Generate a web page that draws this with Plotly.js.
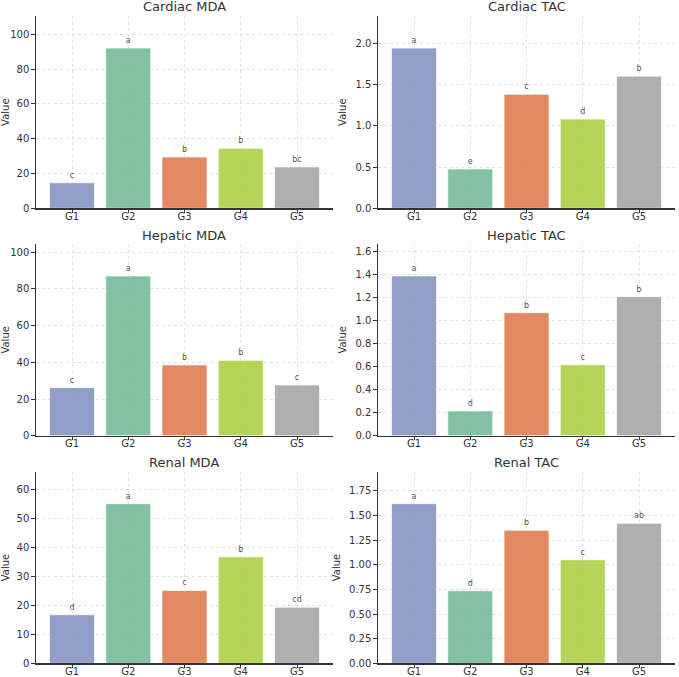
<!DOCTYPE html>
<html>
<head>
<meta charset="utf-8">
<script src="https://cdn.plot.ly/plotly-3.0.1.min.js"></script>
<style>
  html, body { margin: 0; padding: 0; background: #fff; }
  #chart { width: 679px; height: 677px; }
</style>
</head>
<body>
<div id="chart"></div>
<script>
// Group labels shared by all panels
const groups = ['G1', 'G2', 'G3', 'G4', 'G5'];

// Mean values per tissue / marker
const cardiacMDA = [14.7, 92.1, 29.5, 34.5, 23.8];
const cardiacTAC = [1.94, 0.476, 1.38, 1.08, 1.60];
const hepaticMDA = [26.2, 87.1, 38.6, 41.1, 27.7];
const hepaticTAC = [1.39, 0.215, 1.07, 0.617, 1.21];
const renalMDA   = [16.8, 55.2, 25.2, 36.8, 19.4];
const renalTAC   = [1.62, 0.736, 1.35, 1.05, 1.42];

// Significance letters shown above each bar
const cardiacMDALetters = ['c', 'a', 'b', 'b', 'bc'];
const cardiacTACLetters = ['a', 'e', 'c', 'd', 'b'];
const hepaticMDALetters = ['c', 'a', 'b', 'b', 'c'];
const hepaticTACLetters = ['a', 'd', 'b', 'c', 'b'];
const renalMDALetters   = ['d', 'a', 'c', 'b', 'cd'];
const renalTACLetters   = ['a', 'd', 'b', 'c', 'ab'];

// Panel titles
const panelTitles = ['Cardiac MDA', 'Cardiac TAC', 'Hepatic MDA', 'Hepatic TAC', 'Renal MDA', 'Renal TAC'];

// Bar colours (one per group)
const barColors = ['#8594C3', '#76BB9A', '#E17D51', '#ADD148', '#A7A7A7'];

const panels = [
  { values: cardiacMDA, letters: cardiacMDALetters, dtick: 20,   fmt: 'd'   },
  { values: cardiacTAC, letters: cardiacTACLetters, dtick: 0.5,  fmt: '.1f' },
  { values: hepaticMDA, letters: hepaticMDALetters, dtick: 20,   fmt: 'd'   },
  { values: hepaticTAC, letters: hepaticTACLetters, dtick: 0.2,  fmt: '.1f' },
  { values: renalMDA,   letters: renalMDALetters,   dtick: 10,   fmt: 'd'   },
  { values: renalTAC,   letters: renalTACLetters,   dtick: 0.25, fmt: '.2f' }
];

// Plot-area domains (paper fractions)
const W = 679, H = 677;
const colDomains = [[36 / W, 333 / W], [378 / W, 675 / W]];
const rowDomains = [
  [1 - 208.3 / H, 1 - 16 / H],
  [1 - 435.7 / H, 1 - 244 / H],
  [1 - 663.3 / H, 1 - 471.7 / H]
];

const axisColor = '#333333';
const gridColor = '#d9d9d9';
const textColor = '#333333';
const fontFamily = 'DejaVu Sans, sans-serif';

const data = [];
const layout = {
  width: W,
  height: H,
  margin: { l: 0, r: 0, t: 0, b: 0 },
  paper_bgcolor: '#ffffff',
  plot_bgcolor: '#ffffff',
  showlegend: false,
  font: { family: fontFamily, color: textColor, size: 10 },
  annotations: []
};

panels.forEach((p, i) => {
  const n = i + 1;
  const xa = n === 1 ? 'x' : 'x' + n;
  const ya = n === 1 ? 'y' : 'y' + n;
  const row = Math.floor(i / 2);
  const col = i % 2;

  data.push({
    type: 'bar',
    x: groups,
    y: p.values,
    xaxis: xa,
    yaxis: ya,
    width: 0.8,
    opacity: 0.9,
    marker: { color: barColors, line: { color: 'rgba(255,255,255,0.7)', width: 1 } },
    text: p.letters,
    textposition: 'outside',
    textfont: { family: fontFamily, size: 8, color: '#444444' },
    constraintext: 'none',
    cliponaxis: false,
    hoverinfo: 'x+y'
  });

  const xKey = n === 1 ? 'xaxis' : 'xaxis' + n;
  const yKey = n === 1 ? 'yaxis' : 'yaxis' + n;

  layout[xKey] = {
    domain: colDomains[col],
    anchor: ya,
    type: 'category',
    range: [-0.64, 4.64],
    showline: true,
    linecolor: axisColor,
    linewidth: 1.2,
    ticks: 'outside',
    ticklen: 3.5,
    tickwidth: 1,
    tickcolor: axisColor,
    ticklabelstandoff: -5,
    showgrid: true,
    gridcolor: gridColor,
    griddash: 'dot',
    gridwidth: 0.8,
    zeroline: false,
    tickfont: { family: fontFamily, size: 10, color: textColor },
    fixedrange: true
  };

  const ymax = Math.max(...p.values) * 1.2;
  layout[yKey] = {
    domain: rowDomains[row],
    anchor: xa,
    range: [0, ymax],
    dtick: p.dtick,
    tick0: 0,
    tickformat: p.fmt,
    showline: true,
    linecolor: axisColor,
    linewidth: 1.2,
    ticks: 'outside',
    ticklen: 3.5,
    tickwidth: 1,
    tickcolor: axisColor,
    showgrid: true,
    gridcolor: gridColor,
    griddash: 'dot',
    gridwidth: 0.8,
    zeroline: false,
    tickfont: { family: fontFamily, size: 10, color: textColor },
    title: { text: 'Value', font: { family: fontFamily, size: 10, color: textColor }, standoff: 6 },
    fixedrange: true
  };

  layout.annotations.push({
    text: panelTitles[i],
    xref: 'paper',
    yref: 'paper',
    x: (colDomains[col][0] + colDomains[col][1]) / 2,
    y: rowDomains[row][1],
    xanchor: 'center',
    yanchor: 'middle',
    yshift: 9,
    showarrow: false,
    font: { family: fontFamily, size: 13, color: textColor }
  });
});

Plotly.newPlot('chart', data, layout, { displayModeBar: false, staticPlot: true });
</script>
</body>
</html>
